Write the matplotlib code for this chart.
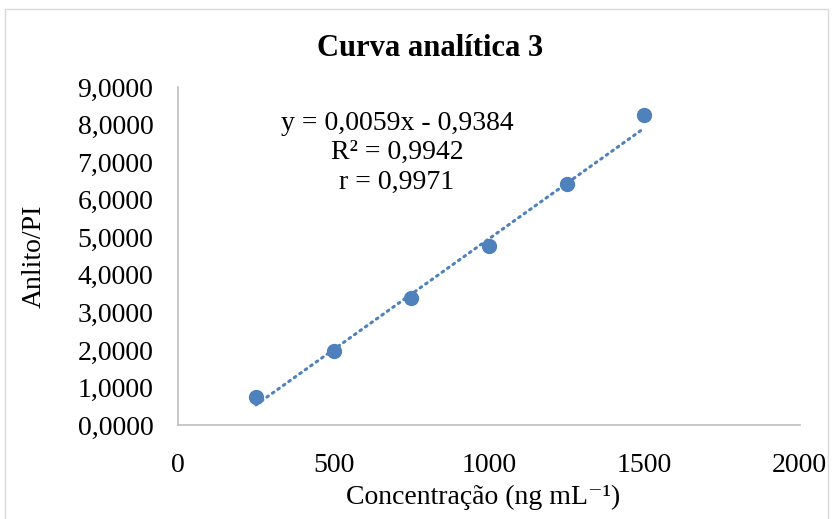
import matplotlib.pyplot as plt
from matplotlib.patches import Rectangle
import numpy as np

plt.rcParams['font.family'] = ['Liberation Serif', 'DejaVu Serif']

# dados
concentracao = [250, 500, 750, 1000, 1250, 1500]
razao = [0.75, 1.96, 3.38, 4.76, 6.42, 8.27]
inclinacao = 0.0059
intercepto = -0.9384
r2 = 0.9942
r = 0.9971

azul = '#4F81BD'

fig = plt.figure(figsize=(8.33, 5.19), dpi=100)
# moldura do gráfico (estilo Excel)
fig.patches.append(Rectangle((5 / 833, -0.01), 823 / 833, 1 - 9 / 519 + 0.01,
                             transform=fig.transFigure, fill=False,
                             edgecolor='#D9D9D9', linewidth=1))

ax = fig.add_axes([0.214, 0.181, 0.746, 0.651])

x = np.array(concentracao)
x_linha = np.array([x.min(), x.max()])
ax.plot(x_linha, inclinacao * x_linha + intercepto, linestyle=(0, (0.6, 1.6)),
        dash_capstyle='round', color=azul, linewidth=2.2, zorder=2)
ax.plot(concentracao, razao, 'o', color=azul, markersize=10, zorder=3)

ax.set_xlim(0, 2000)
ax.set_ylim(0, 9)
ax.set_xticks([0, 500, 1000, 1500, 2000])
ax.set_yticks(range(0, 10))
ax.set_yticklabels([f'{v:.4f}'.replace('.', ',') for v in range(0, 10)])
ax.tick_params(length=0, labelsize=20)
ax.tick_params(axis='y', pad=18)
ax.tick_params(axis='x', pad=20)

for lado in ['top', 'right']:
    ax.spines[lado].set_visible(False)
for lado in ['left', 'bottom']:
    ax.spines[lado].set_color('#BFBFBF')
    ax.spines[lado].set_linewidth(1.2)

fig.text(430 / 833, 1 - 49 / 519, 'Curva analítica 3', fontsize=22,
         fontweight='bold', ha='center', va='center')
ax.set_xlabel('Concentração (ng mL⁻¹)', fontsize=20)
ax.xaxis.set_label_coords(0.49, -0.178)
ax.set_ylabel('Anlito/PI', fontsize=20)
ax.yaxis.set_label_coords(-0.212, 0.5)

texto = (f'y = {inclinacao:.4f}x - {abs(intercepto):.4f}\n'
         f'R² = {r2:.4f}\nr = {r:.4f}').replace('.', ',')
ax.text(704, 7.25, texto, fontsize=20, ha='center', va='center', linespacing=1.25)

fig.savefig('out.png', dpi=100)
